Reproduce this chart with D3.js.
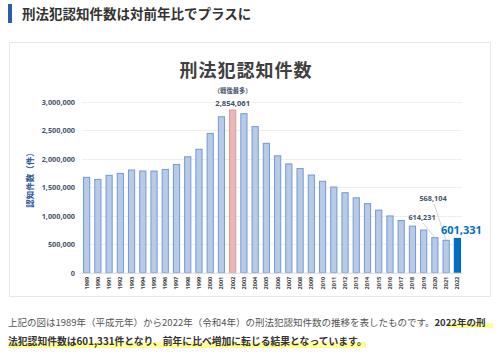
<!DOCTYPE html>
<html><head><meta charset="utf-8">
<script src="https://cdn.jsdelivr.net/npm/d3@7"></script>
<style>
html,body{margin:0;padding:0;background:#fff;}
svg{display:block;font-family:"Noto Sans CJK JP","Noto Sans",sans-serif;}
</style></head>
<body><svg id="c" width="500" height="355"></svg>
<script>
const years = ["1989","1990","1991","1992","1993","1994","1995","1996","1997","1998","1999","2000","2001","2002","2003","2004","2005","2006","2007","2008","2009","2010","2011","2012","2013","2014","2015","2016","2017","2018","2019","2020","2021","2022"];
const counts = [1673268,1636628,1707877,1742366,1801150,1784432,1782944,1812119,1899564,2033546,2165626,2443470,2735612,2854061,2790136,2562767,2269572,2050850,1908836,1826828,1713832,1604019,1502951,1403167,1314140,1212163,1098969,996120,915042,817338,748559,614231,568104,601331];
const yTicks = [0,500000,1000000,1500000,2000000,2500000,3000000];
const peakYear = "2002";
const latestYear = "2022";
const calloutYears = ["2020","2021"];
const heading = "刑法犯認知件数は対前年比でプラスに";
const chartTitle = "刑法犯認知件数";
const yLabel = "認知件数（件）";
const peakNote = "（戦後最多）";

const svg = d3.select("#c");
const fmt = d3.format(",");

// heading
svg.append("rect").attr("x",8).attr("y",4).attr("width",4).attr("height",19).attr("fill","#2a5caa");
svg.append("text").attr("x",22).attr("y",19).attr("font-size",13.5).attr("font-weight","bold").attr("fill","#333").text(heading);

// chart box
svg.append("rect").attr("x",9.5).attr("y",42.5).attr("width",481).attr("height",254).attr("fill","#fff").attr("stroke","#e8e8e8");

svg.append("text").attr("x",246).attr("y",77).attr("text-anchor","middle").attr("font-size",18).attr("font-weight","bold").attr("fill","#404040").attr("letter-spacing",1).text(chartTitle);

const x = d3.scaleBand().domain(years).range([81,463]).paddingInner(0.36).paddingOuter(0.18);
const y = d3.scaleLinear().domain([0,3000000]).range([272.7,101.7]);

// grid
svg.append("g").selectAll("line").data(yTicks.slice(1)).join("line")
  .attr("x1",82).attr("x2",462).attr("y1",d=>Math.round(y(d))+0.5).attr("y2",d=>Math.round(y(d))+0.5)
  .attr("stroke","#efefef");

// y axis
const ya = d3.axisLeft(y).tickValues(yTicks).tickFormat(fmt).tickSize(0).tickPadding(0);
const gy = svg.append("g").attr("transform","translate(75,0)").call(ya);
gy.select(".domain").remove();
gy.selectAll("text").attr("font-size",7.3).attr("font-weight","bold").attr("fill","#44546a").attr("font-family","'Open Sans','Noto Sans',sans-serif");

svg.append("text").attr("transform","translate(33,178) rotate(-90)").attr("text-anchor","middle")
  .attr("font-size",8.5).attr("font-weight","bold").attr("fill","#2f5597").text(yLabel);

// bars
svg.append("g").selectAll("rect").data(years).join("rect")
  .attr("x",d=>x(d)+0.5).attr("width",x.bandwidth()-1)
  .attr("y",(d,i)=>y(counts[i])).attr("height",(d,i)=>y(0)-y(counts[i]))
  .attr("fill",d=>d===peakYear?"#ebb7b7":d===latestYear?"#0070c0":"#b7cbe9")
  .attr("stroke",d=>d===peakYear?"#d99a9a":d===latestYear?"#0064ad":"#7499d2")
  .attr("stroke-width",1);

// axis baseline
svg.append("line").attr("x1",82).attr("x2",462).attr("y1",y(0)+0.5).attr("y2",y(0)+0.5).attr("stroke","#d9d9d9");

// x axis labels
const xa = d3.axisBottom(x).tickSize(0).tickPadding(0);
const gx = svg.append("g").attr("transform",`translate(0,${y(0)})`).call(xa);
gx.select(".domain").remove();
gx.selectAll("text").attr("font-size",5.6).attr("font-weight","bold").attr("fill","#404040")
  .attr("font-family","'Open Sans','Noto Sans',sans-serif")
  .attr("transform","translate(0,4) rotate(-90)").attr("text-anchor","end").attr("dy","0.35em").attr("y",0).attr("x",0);

// peak labels
const px = x(peakYear)+x.bandwidth()/2;
const pv = counts[years.indexOf(peakYear)];
svg.append("text").attr("x",px).attr("y",93).attr("text-anchor","middle").attr("font-size",6.3).attr("font-weight","bold").attr("fill","#44546a").text(peakNote);
svg.append("text").attr("x",px).attr("y",y(pv)-4).attr("text-anchor","middle").attr("font-size",7.6).attr("font-weight","bold").attr("fill","#44546a").attr("font-family","'Open Sans','Noto Sans',sans-serif").text(fmt(pv));

// callouts
const callPos = {"2020":[422,221],"2021":[433,202]};
calloutYears.forEach(yr=>{
  const i = years.indexOf(yr);
  const bx = x(yr)+x.bandwidth()/2, by = y(counts[i]);
  const [lx,ly] = callPos[yr];
  svg.append("line").attr("x1",lx+1).attr("y1",ly+2).attr("x2",bx).attr("y2",by).attr("stroke","#c8c8c8").attr("stroke-width",0.8);
  svg.append("text").attr("x",lx).attr("y",ly-1.5).attr("text-anchor","middle").attr("font-size",7.3).attr("font-weight","bold").attr("fill","#44546a").attr("font-family","'Open Sans','Noto Sans',sans-serif").text(fmt(counts[i]));
});
const lv = counts[years.indexOf(latestYear)];
svg.append("text").attr("x",x(latestYear)+x.bandwidth()/2+4).attr("y",y(lv)-4).attr("text-anchor","middle").attr("font-size",11).attr("font-weight","bold").attr("fill","#0070c0").attr("font-family","'Open Sans','Noto Sans',sans-serif").text(fmt(lv));

// body text
svg.append("rect").attr("x",448).attr("y",323).attr("width",45).attr("height",5).attr("fill","#ffff99");
svg.append("rect").attr("x",8).attr("y",342).attr("width",358).attr("height",6).attr("fill","#ffff99");
const t1 = svg.append("text").attr("x",8).attr("y",326).attr("font-size",9.5).attr("fill","#555");
t1.append("tspan").text("上記の図は1989年（平成元年）から2022年（令和4年）の刑法犯認知件数の推移を表したものです。");
t1.append("tspan").attr("font-weight","bold").attr("fill","#333").text("2022年の刑");
svg.append("text").attr("x",8).attr("y",345).attr("font-size",9.8).attr("font-weight","bold").attr("fill","#333")
  .text("法犯認知件数は601,331件となり、前年に比べ増加に転じる結果となっています。");
</script></body></html>
